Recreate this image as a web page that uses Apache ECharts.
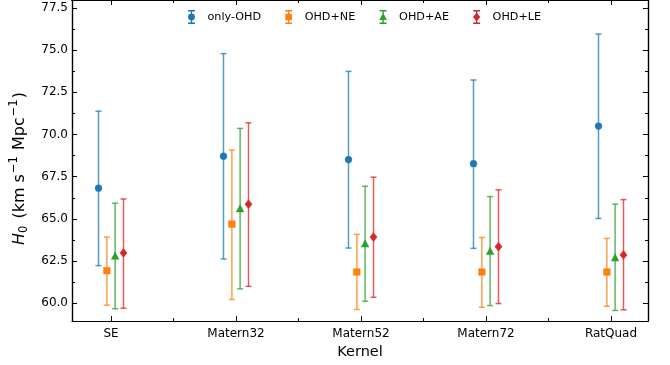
<!DOCTYPE html>
<html>
<head>
<meta charset="utf-8">
<script src="https://cdn.jsdelivr.net/npm/echarts@6/dist/echarts.min.js"></script>
<style>
  html, body { margin: 0; padding: 0; background: #fff; }
  #chart { width: 670px; height: 365px; }
</style>
</head>
<body>
<div id="chart"></div>
<script>
// Kernels on the x axis
const kernels = ['SE', 'Matern32', 'Matern52', 'Matern72', 'RatQuad'];

// H0 best fit and lower / upper bounds for each data combination
const onlyOHD   = [66.82, 68.71, 68.51, 68.27, 70.50];
const onlyOHDlo = [62.23, 62.62, 63.27, 63.25, 65.02];
const onlyOHDhi = [71.38, 74.79, 73.74, 73.23, 75.95];

const ohdNE   = [61.93, 64.69, 61.85, 61.85, 61.85];
const ohdNElo = [59.88, 60.22, 59.63, 59.76, 59.82];
const ohdNEhi = [63.92, 69.08, 64.08, 63.90, 63.84];

const ohdAE   = [62.78, 65.59, 63.51, 63.07, 62.68];
const ohdAElo = [59.67, 60.85, 60.12, 59.86, 59.57];
const ohdAEhi = [65.93, 70.36, 66.93, 66.32, 65.87];

const ohdLE   = [62.98, 65.87, 63.92, 63.35, 62.86];
const ohdLElo = [59.70, 61.00, 60.35, 59.98, 59.61];
const ohdLEhi = [66.18, 70.69, 67.47, 66.72, 66.14];

// Tick values
const yMajorTicks = [60, 62.5, 65, 67.5, 70, 72.5, 75, 77.5];
const yMinorTicks = [61.25, 63.75, 66.25, 68.75, 71.25, 73.75, 76.25];
const xMajorTicks = [0, 1, 2, 3, 4];
const xMinorTicks = [0.5, 1.5, 2.5, 3.5];

const X_MIN = -0.312, X_MAX = 4.296;
const Y_MIN = 58.94, Y_MAX = 77.97;

const groups = [
  { name: 'only-OHD', color: '#1f77b4', marker: 'circle',   c: onlyOHD, lo: onlyOHDlo, hi: onlyOHDhi, shift: -0.1 },
  { name: 'OHD+NE',   color: '#ff7f0e', marker: 'square',   c: ohdNE,   lo: ohdNElo,   hi: ohdNEhi,   shift: -0.033 },
  { name: 'OHD+AE',   color: '#2ca02c', marker: 'triangle', c: ohdAE,   lo: ohdAElo,   hi: ohdAEhi,   shift: 0.033 },
  { name: 'OHD+LE',   color: '#d62728', marker: 'diamond',  c: ohdLE,   lo: ohdLElo,   hi: ohdLEhi,   shift: 0.1 }
];

function markerShape(kind, x, y, color) {
  const style = { fill: color, stroke: color, lineWidth: 0.5 };
  if (kind === 'circle') return { type: 'circle', shape: { cx: x, cy: y, r: 3.4 }, style };
  if (kind === 'square') return { type: 'rect', shape: { x: x - 3.3, y: y - 3.3, width: 6.6, height: 6.6 }, style };
  if (kind === 'triangle') return { type: 'polygon', shape: { points: [[x, y - 4.2], [x + 3.8, y + 3], [x - 3.8, y + 3]] }, style };
  return { type: 'polygon', shape: { points: [[x, y - 4.4], [x + 3.6, y], [x, y + 4.4], [x - 3.6, y]] }, style };
}

function errorRenderer(g) {
  return function (params, api) {
    const xv = api.value(0), cv = api.value(1), lv = api.value(2), hv = api.value(3);
    const pc = api.coord([xv, cv]);
    const pl = api.coord([xv, lv]);
    const ph = api.coord([xv, hv]);
    const x = pc[0];
    const cap = 3;
    const ls = { stroke: g.color, lineWidth: 1.5, opacity: 0.75 };
    return {
      type: 'group',
      children: [
        { type: 'line', shape: { x1: x, y1: pl[1], x2: x, y2: ph[1] }, style: ls },
        { type: 'line', shape: { x1: x - cap, y1: ph[1], x2: x + cap, y2: ph[1] }, style: ls },
        { type: 'line', shape: { x1: x - cap, y1: pl[1], x2: x + cap, y2: pl[1] }, style: ls },
        markerShape(g.marker, x, pc[1], g.color)
      ]
    };
  };
}

// Legend icons: a capped error bar with the series marker on it
const barPath = 'M1.5 0 H8.5 V1.4 H1.5 Z M4.3 0 H5.7 V14 H4.3 Z M1.5 12.6 H8.5 V14 H1.5 Z ';
const iconMarkers = {
  circle: 'M5 3.6 A3.4 3.4 0 1 1 5 10.4 A3.4 3.4 0 1 1 5 3.6 Z',
  square: 'M1.7 3.7 H8.3 V10.3 H1.7 Z',
  triangle: 'M5 2.8 L8.8 10 L1.2 10 Z',
  diamond: 'M5 2.6 L8.6 7 L5 11.4 L1.4 7 Z'
};

const series = groups.map(g => ({
  name: g.name,
  type: 'custom',
  xAxisIndex: 0,
  yAxisIndex: 0,
  itemStyle: { color: g.color },
  renderItem: errorRenderer(g),
  encode: { x: 0, y: 1 },
  data: kernels.map((k, i) => [i + g.shift, g.c[i], g.lo[i], g.hi[i]])
}));

function spine(show) {
  return { show: show, onZero: false, lineStyle: { color: '#000', width: 1.2 } };
}

function xAxisDef(pos, ticks, len, labels) {
  return {
    type: 'value', position: pos, min: X_MIN, max: X_MAX,
    axisLine: spine(labels || pos === 'top'),
    splitLine: { show: false },
    axisTick: { show: true, inside: true, length: len, customValues: ticks, lineStyle: { color: '#000', width: 1 } },
    axisLabel: labels ? {
      show: true, customValues: xMajorTicks, margin: 7,
      fontFamily: 'DejaVu Sans', fontSize: 12, color: '#000',
      formatter: v => kernels[Math.round(v)]
    } : { show: false }
  };
}

function yAxisDef(pos, ticks, len, labels) {
  return {
    type: 'value', position: pos, min: Y_MIN, max: Y_MAX,
    axisLine: spine(true),
    splitLine: { show: false },
    axisTick: { show: true, inside: true, length: len, customValues: ticks, lineStyle: { color: '#000', width: 1 } },
    axisLabel: labels ? {
      show: true, customValues: yMajorTicks, margin: 4,
      fontFamily: 'DejaVu Sans', fontSize: 12, color: '#000',
      formatter: v => v.toFixed(1)
    } : { show: false }
  };
}

const xAxes = [
  xAxisDef('bottom', xMajorTicks, 5, true),
  xAxisDef('bottom', xMinorTicks, 3, false),
  xAxisDef('top', xMajorTicks, 5, false),
  xAxisDef('top', xMinorTicks, 3, false)
];
xAxes[0].name = 'Kernel';
xAxes[0].nameLocation = 'middle';
xAxes[0].nameGap = 23;
xAxes[0].nameTextStyle = { fontFamily: 'DejaVu Sans', fontSize: 14.5, color: '#000' };

const yAxes = [
  yAxisDef('left', yMajorTicks, 5, true),
  yAxisDef('left', yMinorTicks, 3, false),
  yAxisDef('right', yMajorTicks, 5, false),
  yAxisDef('right', yMinorTicks, 3, false)
];
yAxes[0].name = '{i|H}{sub|0}{n| (km s}{sup|−1}{n| Mpc}{sup|−1}{n|)}';
yAxes[0].nameLocation = 'middle';
yAxes[0].nameRotate = 90;
yAxes[0].nameGap = 26;
yAxes[0].nameTextStyle = {
  fontFamily: 'DejaVu Sans', fontSize: 15.5, color: '#000',
  padding: [0, 16, 0, 0],
  rich: {
    i: { fontFamily: 'DejaVu Sans', fontStyle: 'italic', fontSize: 16, color: '#000', lineHeight: 22 },
    n: { fontFamily: 'DejaVu Sans', fontSize: 16, color: '#000', lineHeight: 22 },
    sub: { fontFamily: 'DejaVu Sans', fontSize: 11.5, color: '#000', verticalAlign: 'bottom', lineHeight: 11, padding: [0, 2, 0, 0] },
    sup: { fontFamily: 'DejaVu Sans', fontSize: 11.5, color: '#000', verticalAlign: 'top', lineHeight: 11, padding: [0, 1, 0, 1] }
  }
};

const chart = echarts.init(document.getElementById('chart'), null, { renderer: 'canvas' });
chart.setOption({
  animation: false,
  backgroundColor: '#fff',
  grid: { left: 72, right: 22, top: 0, bottom: 43, containLabel: false },
  legend: {
    top: 5,
    left: 183,
    itemWidth: 10,
    itemHeight: 14,
    itemGap: 24,
    textStyle: { fontFamily: 'DejaVu Sans', fontSize: 11.2, color: '#000', padding: [0, 0, 0, 6] },
    data: groups.map(g => ({ name: g.name, icon: 'path://' + barPath + iconMarkers[g.marker], itemStyle: { color: g.color } }))
  },
  xAxis: xAxes,
  yAxis: yAxes,
  series: series
});
</script>
</body>
</html>
